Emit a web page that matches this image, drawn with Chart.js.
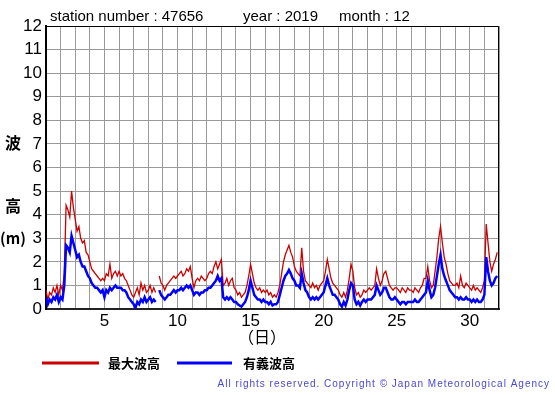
<!DOCTYPE html>
<html>
<head>
<meta charset="utf-8">
<script src="https://cdn.jsdelivr.net/npm/chart.js@4"></script>
<style>
  body { margin: 0; background: #fff; }
</style>
</head>
<body>
<canvas id="wave" width="555" height="395"></canvas>
<script>
// 3-hourly values, 8 per day, Dec 1 00h .. Dec 31 21h
const maxWave = [
  0.8, 0.4, 0.7, 0.6, 0.9, 0.7, 1.0, 0.6,
  1.0, 0.8, 1.5, 4.4, 4.2, 3.9, 5.0, 4.3,
  3.8, 3.3, 3.5, 3.0, 2.8, 2.9, 2.4, 2.3,
  2.0, 1.7, 1.6, 1.5, 1.4, 1.3, 1.2, 1.3,
  1.2, 1.5, 1.4, 1.9, 1.3, 1.5, 1.6, 1.4,
  1.6, 1.4, 1.5, 1.3, 1.2, 1.0, 0.8, 0.6,
  0.5, 0.7, 0.9, 0.6, 1.1, 0.8, 1.0, 0.7,
  0.8, 1.0, 0.7, 0.9, 0.7, null, 1.4, 1.1,
  1.0, 0.8, 1.0, 1.1, 1.2, 1.3, 1.4, 1.3,
  1.4, 1.5, 1.6, 1.4, 1.5, 1.7, 1.6, 1.8,
  1.3, 0.9, 1.2, 1.3, 1.2, 1.4, 1.3, 1.2,
  1.3, 1.5, 1.6, 1.5, 1.8, 2.0, 1.7, 1.9,
  2.1, 1.0, 1.1, 1.3, 1.0, 1.2, 1.3, 0.9,
  0.8, 0.6, 0.7, 0.5, 0.6, 0.7, 1.0, 1.4,
  1.9, 1.5, 1.1, 0.9, 0.8, 0.9, 0.7, 0.8,
  0.7, 0.8, 0.6, 0.7, 0.5, 0.6, 0.5, 0.7,
  1.0, 1.5, 2.0, 2.3, 2.5, 2.7, 2.4, 2.2,
  1.8, 1.6, 1.5, 1.4, 2.6, 1.6, 1.2, 1.1,
  1.0, 0.9, 1.1, 0.9, 1.0, 0.8, 1.0, 1.1,
  1.2, 1.6, 2.1, 1.7, 1.3, 1.1, 1.0, 0.9,
  0.8, 0.6, 0.5, 0.7, 0.5, 0.8, 1.3, 1.9,
  1.6, 0.9, 0.6, 0.7, 0.5, 0.6, 0.8, 0.7,
  0.8, 0.9, 0.8, 0.9, 1.0, 1.7, 1.3, 1.0,
  1.2, 1.5, 1.6, 1.3, 1.0, 0.9, 0.8, 0.9,
  0.9, 0.8, 0.7, 0.9, 0.8, 0.7, 0.9, 0.8,
  0.8, 0.7, 0.9, 0.8, 0.7, 0.9, 1.0, 1.3,
  1.3, 1.8, 1.2, 0.9, 1.0, 1.6, 2.2, 3.0,
  3.5, 2.8, 2.2, 1.9, 1.5, 1.2, 1.1, 1.0,
  1.0, 1.1, 0.9, 1.4, 1.0, 0.9, 1.1, 1.0,
  0.9, 0.8, 1.0, 0.8, 0.9, 0.8, 0.7, 0.9,
  1.2, 3.6, 2.8, 2.0, 1.6, 1.9, 2.1, 2.4
]
const sigWave = [
  0.5, 0.2, 0.4, 0.3, 0.5, 0.4, 0.6, 0.3,
  0.5, 0.4, 1.0, 2.7, 2.6, 2.4, 3.1, 2.8,
  2.5, 2.2, 2.3, 2.0, 1.8, 1.8, 1.6, 1.4,
  1.3, 1.1, 1.0, 0.9, 0.9, 0.8, 0.7, 0.8,
  0.5, 0.8, 0.7, 0.9, 0.8, 0.9, 1.0, 0.9,
  0.9, 0.9, 0.8, 0.8, 0.7, 0.5, 0.4, 0.3,
  0.2, 0.05, 0.3, 0.2, 0.4, 0.3, 0.5, 0.3,
  0.4, 0.5, 0.3, 0.4, 0.3, null, 0.8, 0.6,
  0.5, 0.4, 0.5, 0.6, 0.6, 0.7, 0.8, 0.7,
  0.8, 0.8, 0.9, 0.8, 0.9, 1.0, 0.9, 1.0,
  0.8, 0.6, 0.7, 0.7, 0.6, 0.7, 0.7, 0.8,
  0.8, 0.9, 0.9, 1.0, 1.1, 1.2, 1.4, 1.2,
  1.3, 0.5, 0.4, 0.5, 0.4, 0.5, 0.4, 0.3,
  0.3, 0.2, 0.15, 0.1, 0.2, 0.3, 0.5, 0.8,
  1.2, 0.9, 0.6, 0.5, 0.4, 0.4, 0.3, 0.4,
  0.3, 0.3, 0.2, 0.3, 0.15, 0.2, 0.2, 0.3,
  0.6, 0.9, 1.2, 1.4, 1.5, 1.65, 1.5, 1.3,
  1.2, 1.0, 1.0, 0.9, 1.5, 1.1, 0.8, 0.7,
  0.5, 0.4, 0.5, 0.4, 0.5, 0.4, 0.5, 0.6,
  0.7, 1.0, 1.3, 1.0, 0.8, 0.6, 0.6, 0.5,
  0.4, 0.2, 0.1, 0.3, 0.15, 0.4, 0.8, 1.1,
  1.0, 0.4, 0.2, 0.3, 0.15, 0.3, 0.4, 0.3,
  0.4, 0.4, 0.4, 0.5, 0.6, 1.0, 0.8, 0.6,
  0.7, 0.9, 0.9, 0.7, 0.5, 0.4, 0.4, 0.5,
  0.4, 0.3, 0.2, 0.3, 0.3, 0.2, 0.3, 0.3,
  0.3, 0.3, 0.4, 0.3, 0.3, 0.4, 0.5, 0.6,
  0.7, 1.2, 0.8, 0.5, 0.6, 0.9, 1.4, 1.9,
  2.3, 1.7, 1.4, 1.2, 1.0, 0.8, 0.7, 0.6,
  0.5, 0.5, 0.4, 0.5, 0.4, 0.4, 0.5, 0.4,
  0.4, 0.3, 0.4, 0.3, 0.4, 0.3, 0.3, 0.4,
  0.6, 2.2, 1.6, 1.2, 1.0, 1.1, 1.3, 1.4
]
const dayLabels = [5, 10, 15, 20, 25, 30]
const heightTicks = [0, 1, 2, 3, 4, 5, 6, 7, 8, 9, 10, 11, 12]
const seriesNames = ['最大波高', '有義波高']
const headerParts = ['station number : 47656', 'year : 2019', 'month : 12']

const perDay = 8
const toPoints = (arr) => arr.map((v, i) => ({ x: 1 + i / perDay, y: v }))

const FONT = '"Liberation Sans", Arial, sans-serif'
const JP = '"Noto Sans CJK JP", sans-serif'

const decor = {
  id: 'decor',
  afterDraw(chart) {
    const ctx = chart.ctx
    const a = chart.chartArea
    ctx.save()
    // frame
    ctx.strokeStyle = '#000'
    ctx.lineWidth = 1
    ctx.beginPath()
    ctx.moveTo(a.left, a.top + 0.5)
    ctx.lineTo(a.right - 0.5, a.top + 0.5)
    ctx.lineTo(a.right - 0.5, a.bottom)
    ctx.stroke()

    // header
    ctx.fillStyle = '#000'
    ctx.font = '15px ' + FONT
    ctx.textBaseline = 'alphabetic'
    ctx.fillText(headerParts[0], 50, 21)
    ctx.fillText(headerParts[1], 243, 21)
    ctx.fillText(headerParts[2], 339, 21)

    // y axis title
    ctx.font = 'bold 16px ' + JP
    ctx.textAlign = 'center'
    ctx.textBaseline = 'middle'
    ctx.fillText('波', 13, 143)
    ctx.fillText('高', 13, 206)
    ctx.font = 'bold 15px ' + JP
    ctx.fillText('(m)', 13, 238)

    // x axis title
    ctx.font = '16px ' + JP
    ctx.fillText('（日）', 262, 337)

    // legend
    ctx.lineWidth = 3
    ctx.strokeStyle = '#cc0000'
    ctx.beginPath(); ctx.moveTo(42, 363); ctx.lineTo(99, 363); ctx.stroke()
    ctx.strokeStyle = '#0000ff'
    ctx.beginPath(); ctx.moveTo(177, 363); ctx.lineTo(232, 363); ctx.stroke()
    ctx.fillStyle = '#000'
    ctx.font = 'bold 13px ' + JP
    ctx.textAlign = 'left'
    ctx.fillText(seriesNames[0], 108, 363)
    ctx.fillText(seriesNames[1], 243, 363)

    // copyright
    ctx.font = '10px ' + FONT
    ctx.fillStyle = '#4848d8'
    ctx.textAlign = 'right'
    ctx.letterSpacing = '1px'
    ctx.fillText('All rights reserved. Copyright © Japan Meteorological Agency', 550, 384)
    ctx.restore()
  }
}

const ctx = document.getElementById('wave').getContext('2d')
const waveChart = new Chart(ctx, {
  type: 'line',
  data: {
    datasets: [{
      label: seriesNames[0],
      data: toPoints(maxWave),
      borderColor: '#cc0000',
      borderWidth: 1.3,
      pointRadius: 0,
      order: 2
    }, {
      label: seriesNames[1],
      data: toPoints(sigWave),
      borderColor: '#0000ff',
      borderWidth: 2.5,
      pointRadius: 0,
      order: 1
    }]
  },
  options: {
    responsive: false,
    animation: false,
    devicePixelRatio: 1,
    layout: { padding: { left: 0, top: 26, right: 56, bottom: 56 } },
    plugins: {
      legend: { display: false },
      tooltip: { enabled: false }
    },
    scales: {
      x: {
        type: 'linear',
        min: 1,
        max: 32,
        afterFit: (s) => { s.height = 30 },
        ticks: {
          stepSize: 1,
          autoSkip: false,
          maxRotation: 0,
          padding: 2,
          color: '#000',
          font: { size: 17, family: FONT },
          callback: (v) => dayLabels.includes(v) ? String(v) : ''
        },
        grid: { color: '#9a9a9a', lineWidth: 1, drawTicks: false },
        border: { color: '#222', width: 2 }
      },
      y: {
        min: 0,
        max: 12,
        afterFit: (s) => { s.width = 46 },
        ticks: {
          stepSize: 1,
          padding: 4,
          color: '#000',
          font: { size: 17, family: FONT },
          callback: (v) => heightTicks.includes(v) ? String(v) : ''
        },
        grid: { color: '#9a9a9a', lineWidth: 1, drawTicks: false },
        border: { color: '#000', width: 2 }
      }
    }
  },
  plugins: [decor]
})
</script>
</body>
</html>
